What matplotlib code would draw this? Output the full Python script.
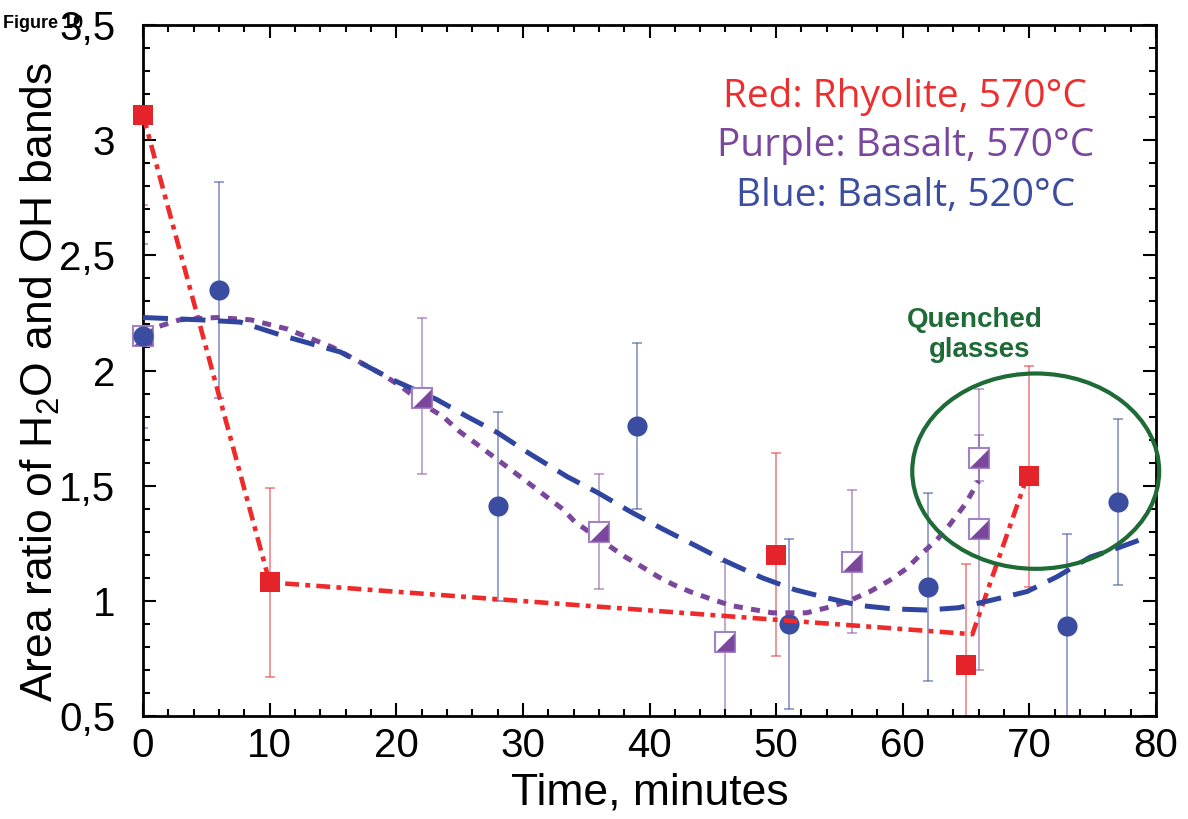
import numpy as np
import matplotlib
matplotlib.use("Agg")
import matplotlib.pyplot as plt
from matplotlib.patches import Ellipse

plt.rcParams['font.family'] = ['Liberation Sans', 'DejaVu Sans']
plt.rcParams['mathtext.fontset'] = 'custom'
plt.rcParams['mathtext.rm'] = 'Liberation Sans'
plt.rcParams['mathtext.default'] = 'rm'
plt.rcParams['lines.scale_dashes'] = False

# red: rhyolite 570C
red_t = [0, 10, 50, 65, 70]
red_y = [3.11, 1.08, 1.20, 0.72, 1.54]
red_lo = [2.72, 0.67, 0.76, 0.28, 1.06]
red_hi = [3.50, 1.49, 1.64, 1.16, 2.02]
red_fit_t = [0, 10, 65.5, 69.7]
red_fit_y = [3.11, 1.08, 0.855, 1.52]

# purple: basalt 570C
pur_t = [0, 22, 36, 46, 56, 66, 66]
pur_y = [2.15, 1.88, 1.30, 0.82, 1.17, 1.62, 1.31]
pur_lo = [2.15, 1.55, 1.05, 0.47, 0.86, 1.52, 0.70]
pur_hi = [2.15, 2.23, 1.55, 1.17, 1.48, 1.72, 1.92]
pur_fit_t = [0, 2.9, 5.8, 8.5, 11.4, 15, 19, 20.5, 22.5, 23.7, 25, 26.2, 30, 33.2, 34.1,
             36.7, 38.1, 39.4, 40.7, 41.9, 43.2, 44.6, 46.4, 47.9, 49.7, 52.4, 54, 55.6,
             57.4, 59, 60.3, 61.4, 62.7, 63.7, 64.9, 66]
pur_fit_y = [2.17, 2.22, 2.23, 2.22, 2.18, 2.10, 1.98, 1.926, 1.84, 1.80, 1.735, 1.687, 1.53,
             1.396, 1.343, 1.243, 1.19, 1.148, 1.104, 1.07, 1.04, 1.013, 0.98, 0.965, 0.948,
             0.948, 0.97, 0.996, 1.04, 1.09, 1.14, 1.2, 1.265, 1.33, 1.417, 1.52]

# blue: basalt 520C
blu_t = [0, 6, 28, 39, 51, 62, 73, 77]
blu_y = [2.15, 2.35, 1.41, 1.76, 0.90, 1.06, 0.89, 1.43]
blu_lo = [1.75, 1.88, 1.00, 1.40, 0.53, 0.65, 0.49, 1.07]
blu_hi = [2.55, 2.82, 1.82, 2.12, 1.27, 1.47, 1.29, 1.79]
blu_fit_t = [0, 4.5, 7.7, 11.1, 15.6, 19.7, 23.2, 25.6, 28, 30.5, 33.5, 35.9, 38.5, 41, 43.8,
             46.1, 48.9, 51.5, 54, 56.6, 59.2, 61.9, 64.4, 67.1, 69.8, 72.2, 74.8, 77, 79]
blu_fit_y = [2.23, 2.22, 2.21, 2.15, 2.08, 1.96, 1.874, 1.80, 1.73, 1.64, 1.539, 1.47, 1.387,
             1.313, 1.235, 1.17, 1.10, 1.048, 1.013, 0.98, 0.965, 0.96, 0.97, 1.004, 1.04,
             1.105, 1.19, 1.23, 1.27]

xticks = [0, 10, 20, 30, 40, 50, 60, 70, 80]
yticks = [0.5, 1, 1.5, 2, 2.5, 3, 3.5]
ytick_labels = ['0,5', '1', '1,5', '2', '2,5', '3', '3,5']

RED = '#e4232a'
BLUE = '#3a4da0'
PURPLE = '#7b479d'
PURPLE_LT = '#a282c6'
GREEN = '#1e6b36'

fig = plt.figure(figsize=(11.88, 8.19), dpi=100)
ax = fig.add_axes([143/1188, 1 - 716/819, (1156-143)/1188, (716-25)/819])

def errs(y, lo, hi):
    y, lo, hi = np.array(y), np.array(lo), np.array(hi)
    return [y - lo, hi - y]

# error bars
ax.errorbar(red_t, red_y, yerr=errs(red_y, red_lo, red_hi), fmt='none', ecolor=RED,
            elinewidth=1.1, capsize=3.6, capthick=1.1, alpha=0.6, zorder=1)
ax.errorbar(pur_t[1:], pur_y[1:], yerr=errs(pur_y[1:], pur_lo[1:], pur_hi[1:]), fmt='none',
            ecolor=PURPLE, elinewidth=1.1, capsize=3.6, capthick=1.1, alpha=0.6, zorder=1)
ax.errorbar(blu_t, blu_y, yerr=errs(blu_y, blu_lo, blu_hi), fmt='none', ecolor=BLUE,
            elinewidth=1.1, capsize=3.6, capthick=1.1, alpha=0.65, zorder=1)

# blue circles under the fit lines
ax.plot(blu_t[1:], blu_y[1:], 'o', color=BLUE, ms=14.5, mew=0, zorder=2, clip_on=False)

# fit lines
ax.plot(red_fit_t, red_fit_y, color='#ee2a2a', lw=3.3, dashes=(10, 4.5, 3.5, 4.5), zorder=3)
ax.plot(pur_fit_t, pur_fit_y, color=PURPLE, lw=3.6, dashes=(6.5, 6), zorder=3)
ax.plot(blu_fit_t, blu_fit_y, color='#2f45a0', lw=3.6, dashes=(18, 9), zorder=3)

# purple half-filled squares
half = [(-1, -1), (1, -1), (1, 1), (-1, -1)]
ax.plot(pur_t, pur_y, 's', mfc='white', mec=PURPLE_LT, mew=1.5, ms=14, zorder=4, clip_on=False)
ax.plot(pur_t, pur_y, marker=half, ls='none', color=PURPLE, mew=0, ms=13, zorder=4, clip_on=False)
# blue point at t=0 sits over the purple one
ax.plot(blu_t[:1], blu_y[:1], 'o', color=BLUE, ms=14.5, mew=0, zorder=5, clip_on=False)
# red squares
ax.plot(red_t, red_y, 's', color=RED, ms=15, mew=0, zorder=5, clip_on=False)

ax.add_patch(Ellipse((70.5, 1.563), width=19.5, height=0.848, fill=False, ec=GREEN, lw=3,
                     zorder=6, clip_on=False))
ax.text(65.7, 2.187, 'Quenched', color=GREEN, fontsize=20, fontweight='bold', ha='center',
        va='baseline')
ax.text(66.1, 2.057, 'glasses', color=GREEN, fontsize=20, fontweight='bold', ha='center',
        va='baseline')

leg_kw = dict(fontsize=28, family='Open Sans', fontweight='medium', ha='center', va='baseline')
ax.text(60.2, 3.143, 'Red: Rhyolite, 570°C', color='#ed2e2e', **leg_kw)
ax.text(60.2, 2.930, 'Purple: Basalt, 570°C', color=PURPLE, **leg_kw)
ax.text(60.2, 2.713, 'Blue: Basalt, 520°C', color=BLUE, **leg_kw)

ax.set_xlim(0, 80)
ax.set_ylim(0.5, 3.5)
ax.set_xticks(xticks)
ax.set_xticks(np.arange(0, 81, 2), minor=True)
ax.set_yticks(yticks)
ax.set_yticklabels(ytick_labels)
ax.set_yticks(np.arange(0.5, 3.51, 0.1), minor=True)
ax.tick_params(which='both', direction='in', top=True, right=True, width=1.5, labelsize=29)
ax.tick_params(which='major', length=9.5)
ax.tick_params(which='minor', length=5)
ax.tick_params(axis='x', pad=8)
ax.tick_params(axis='y', pad=20)
for s in ax.spines.values():
    s.set_linewidth(2)

ax.set_xlabel('Time, minutes', fontsize=32, va='center')
ax.xaxis.set_label_coords(0.5, -0.111)
ax.set_ylabel('Area ratio of H$_2$O and OH bands', fontsize=32, va='center')
ax.yaxis.set_label_coords(-0.1017, 0.483)

fig.text(3/1188, 1 - 28/819, 'Figure 10', fontsize=13, fontweight='bold', va='baseline')

fig.savefig('out.png', dpi=100)
